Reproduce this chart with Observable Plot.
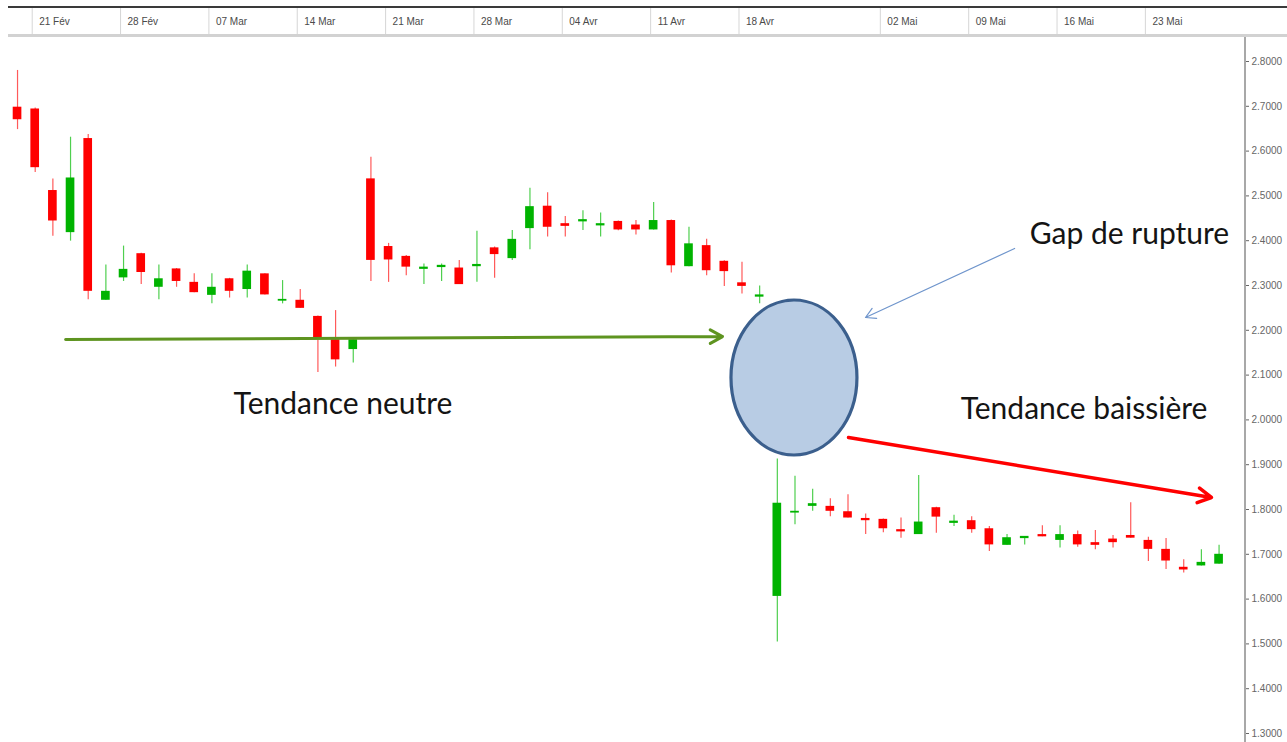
<!DOCTYPE html>
<html>
<head>
<meta charset="utf-8">
<script src="https://cdn.jsdelivr.net/npm/d3@7"></script>
<script src="https://cdn.jsdelivr.net/npm/@observablehq/plot@0.6"></script>
<style>
html, body { margin: 0; padding: 0; background: #fff; }
#header { position: relative; width: 1287px; height: 37px; }
#header svg { position: absolute; left: 0; top: 0; }
#topline { position: absolute; left: 8px; right: 0; top: 6px; height: 2px; background: #3a3a3a; }
#botline { position: absolute; left: 8px; right: 0; top: 34px; height: 3px; background: #d2d2d2; }
#main svg { display: block; }
</style>
</head>
<body>
<div id="header"></div>
<div id="main"></div>
<script>
// Trading days (Feb 18 – May 27)
const dates = [
  "18 Fév",
  "21 Fév","22 Fév","23 Fév","24 Fév","25 Fév",
  "28 Fév","01 Mar","02 Mar","03 Mar","04 Mar",
  "07 Mar","08 Mar","09 Mar","10 Mar","11 Mar",
  "14 Mar","15 Mar","16 Mar","17 Mar","18 Mar",
  "21 Mar","22 Mar","23 Mar","24 Mar","25 Mar",
  "28 Mar","29 Mar","30 Mar","31 Mar","01 Avr",
  "04 Avr","05 Avr","06 Avr","07 Avr","08 Avr",
  "11 Avr","12 Avr","13 Avr","14 Avr","15 Avr",
  "18 Avr","19 Avr","20 Avr","21 Avr",
  "26 Avr","27 Avr","28 Avr","29 Avr",
  "02 Mai","03 Mai","04 Mai","05 Mai","06 Mai",
  "09 Mai","10 Mai","11 Mai","12 Mai","13 Mai",
  "16 Mai","17 Mai","18 Mai","19 Mai","20 Mai",
  "23 Mai","24 Mai","25 Mai","26 Mai","27 Mai"
];
const open = [
  2.698,2.694,2.512,2.418,2.628,2.267,2.317,2.371,2.296,2.337,
  2.307,2.278,2.315,2.291,2.326,2.265,2.267,2.231,2.179,2.157,
  2.538,2.387,2.365,2.336,2.340,2.339,2.342,2.384,2.360,2.427,
  2.477,2.438,2.442,2.433,2.443,2.435,2.424,2.445,2.342,2.389,
  2.354,2.306,2.274,1.606,1.792,1.807,1.807,1.795,1.780,1.778,
  1.755,1.744,1.804,1.769,1.775,1.757,1.720,1.735,1.744,1.731,
  1.744,1.726,1.734,1.742,1.731,1.711,1.671,1.674,1.678
];
const high = [
  2.780,2.696,2.538,2.631,2.637,2.346,2.388,2.372,2.346,2.338,
  2.326,2.326,2.316,2.346,2.326,2.311,2.291,2.232,2.244,2.180,
  2.586,2.394,2.367,2.348,2.348,2.356,2.421,2.386,2.423,2.517,
  2.507,2.454,2.467,2.462,2.444,2.445,2.485,2.446,2.430,2.403,
  2.355,2.352,2.299,1.913,1.874,1.845,1.824,1.833,1.790,1.779,
  1.781,1.876,1.805,1.787,1.784,1.762,1.744,1.740,1.764,1.764,
  1.752,1.753,1.742,1.815,1.738,1.735,1.688,1.710,1.720
];
const low = [
  2.648,2.552,2.410,2.399,2.268,2.267,2.309,2.302,2.268,2.296,
  2.284,2.259,2.272,2.272,2.279,2.259,2.249,2.106,2.118,2.127,
  2.309,2.307,2.322,2.302,2.309,2.302,2.307,2.316,2.356,2.380,
  2.408,2.408,2.423,2.408,2.422,2.413,2.424,2.328,2.342,2.322,
  2.298,2.281,2.259,1.504,1.766,1.796,1.784,1.781,1.744,1.748,
  1.736,1.744,1.747,1.762,1.747,1.706,1.720,1.721,1.739,1.714,
  1.716,1.710,1.714,1.736,1.684,1.666,1.658,1.674,1.678
];
const close = [
  2.670,2.563,2.444,2.540,2.287,2.287,2.336,2.329,2.315,2.309,
  2.284,2.296,2.287,2.332,2.279,2.269,2.249,2.182,2.134,2.179,
  2.356,2.357,2.341,2.341,2.345,2.302,2.347,2.369,2.403,2.476,
  2.430,2.432,2.447,2.438,2.424,2.424,2.445,2.344,2.393,2.333,
  2.331,2.298,2.279,1.814,1.796,1.813,1.796,1.781,1.775,1.757,
  1.750,1.772,1.783,1.774,1.755,1.721,1.737,1.740,1.739,1.744,
  1.721,1.720,1.726,1.736,1.711,1.685,1.665,1.682,1.700
];
const weekLabels = ["21 Fév","28 Fév","07 Mar","14 Mar","21 Mar","28 Mar","04 Avr","11 Avr","18 Avr","02 Mai","09 Mai","16 Mai","23 Mai"];
const yTicks = [1.3,1.4,1.5,1.6,1.7,1.8,1.9,2.0,2.1,2.2,2.3,2.4,2.5,2.6,2.7,2.8];

// Annotations, in data units (day index, price)
const arrows = [
  {x1: 2.72, y1: 2.1795, x2: 39.9, y2: 2.186, color: "#5e9420", width: 3, head: 7},
  {x1: 47.03, y1: 1.9607, x2: 67.57, y2: 1.8268, color: "#ff0000", width: 3.5, head: 6.5},
  {x1: 56.43, y1: 2.3826, x2: 47.99, y2: 2.2286, color: "#6f95cc", width: 1.2, head: 14}
];
const gapEllipse = {x: 43.97, y: 2.0935, rx: 3.565, ry: 0.173};
const labels = [
  {text: "Tendance neutre", x: 18.42, y: 2.034},
  {text: "Gap de rupture", x: 62.93, y: 2.4136},
  {text: "Tendance baissière", x: 60.36, y: 2.023}
];

const W = 1287, MR = 42;
const RED = "#ff0000", GREEN = "#00b300", RED_WICK = "#ff5a5a", GREEN_WICK = "#4fcf4f";

const data = dates.map((d, i) => ({
  i, date: d, open: open[i], high: high[i], low: low[i], close: close[i], up: close[i] >= open[i]
}));
const weekTicks = weekLabels.map(l => ({label: l, i: dates.indexOf(l)}));
const xOpts = {type: "linear", domain: [-0.5, dates.length - 0.5], range: [8.2, 1227.4], axis: null};

const header = Plot.plot({
  width: W, height: 37,
  marginTop: 8, marginBottom: 3, marginLeft: 0, marginRight: MR,
  x: xOpts,
  style: {background: "transparent", fontFamily: "'Liberation Sans', Arial, sans-serif", fontSize: "10px"},
  marks: [
    Plot.ruleX(weekTicks, {x: "i", dx: -3, stroke: "#d6d6d6", strokeWidth: 1}),
    Plot.text(weekTicks, {x: "i", text: "label", textAnchor: "start", dx: 4, fill: "#4a4a4a", fontSize: 10})
  ]
});
const hdr = document.getElementById("header");
hdr.appendChild(header);
const tl = document.createElement("div"); tl.id = "topline"; hdr.appendChild(tl);
const bl = document.createElement("div"); bl.id = "botline"; hdr.appendChild(bl);

const chart = Plot.plot({
  width: W, height: 705,
  marginTop: 0, marginBottom: 0, marginLeft: 0, marginRight: MR,
  x: xOpts,
  y: {domain: [1.3, 2.8], range: [696, 24], axis: "right", ticks: yTicks,
      tickFormat: d => d.toFixed(4), tickSize: 3, tickPadding: 3, label: null},
  color: {type: "identity"},
  style: {background: "#fff", fontFamily: "'Liberation Sans', Arial, sans-serif", fontSize: "10px", color: "#666"},
  marks: [
    // right axis line spanning the full height
    () => {
      const l = d3.create("svg:line")
        .attr("x1", W - MR).attr("x2", W - MR)
        .attr("y1", 0).attr("y2", 705)
        .attr("stroke", "#a8a8a8").attr("stroke-width", 2);
      return l.node();
    },
    Plot.ruleX(data, {x: "i", y1: "low", y2: "high", stroke: d => d.up ? GREEN_WICK : RED_WICK, strokeWidth: 1.2}),
    Plot.rect(data, {x1: d => d.i - 0.245, x2: d => d.i + 0.245, y1: "open", y2: "close", fill: d => d.up ? GREEN : RED}),
    // gap ellipse
    (index, scales) => {
      const cx = scales.x(gapEllipse.x), cy = scales.y(gapEllipse.y);
      const rx = Math.abs(scales.x(gapEllipse.x + gapEllipse.rx) - cx);
      const ry = Math.abs(scales.y(gapEllipse.y + gapEllipse.ry) - cy);
      return d3.create("svg:ellipse")
        .attr("cx", cx).attr("cy", cy).attr("rx", rx).attr("ry", ry)
        .attr("fill", "#b8cce4").attr("stroke", "#3b5f8d").attr("stroke-width", 3.2)
        .node();
    },
    ...arrows.map(a => Plot.arrow([a], {
      x1: "x1", y1: "y1", x2: "x2", y2: "y2",
      stroke: a.color, strokeWidth: a.width, headLength: a.head, headAngle: 58
    })),
    Plot.text(labels, {x: "x", y: "y", text: "text", fill: "#141414", fontSize: 30,
      fontFamily: "Lato, 'Open Sans', sans-serif", textAnchor: "middle"})
  ]
});
document.getElementById("main").appendChild(chart);
</script>
</body>
</html>
